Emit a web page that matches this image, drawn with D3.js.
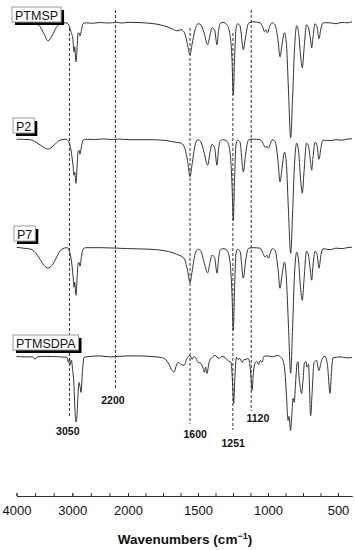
<!DOCTYPE html>
<html>
<head>
<meta charset="utf-8">
<script src="https://cdn.jsdelivr.net/npm/d3@7"></script>
<style>
  html, body { margin: 0; padding: 0; background: #fff; }
  svg { display: block; font-family: "Liberation Sans", Arial, sans-serif; }
</style>
</head>
<body>
<svg id="chart" width="355" height="550"></svg>
<script>
// ---------------- DATA ----------------
const seriesNames = ["PTMSP", "P2", "P7", "PTMSDPA"];
const seriesOffsets = [283, 186, 96, 5];   // vertical stacking offsets (%T units)

// [wavenumber (cm-1), relative transmittance]
const ptmsp = [[4000,98],[3668,97.2],[3578,94.7],[3507,88.8],[3435,83],[3363,87.2],[3291,93.8],[3220,97.2],[3112,98],[3076,97.2],[3022,90.5],[2987,83.8],[2969,73.8],[2956,78],[2933,65.5],[2915,75.5],[2897,88.8],[2879,89.7],[2861,87.2],[2834,92.2],[2807,97.2],[2753,98],[2650,97.6],[2500,98.2],[2350,97.8],[2200,98.3],[2100,97.8],[2000,98.4],[1843,97.6],[1771,96.3],[1721,94.7],[1686,93],[1650,91.3],[1621,92.2],[1600,90.5],[1579,82.2],[1557,71.3],[1543,79.7],[1521,92.2],[1500,97.2],[1479,96.3],[1457,89.7],[1431,79.7],[1414,88],[1400,93.8],[1382,92.2],[1364,79.7],[1354,90.5],[1343,97.2],[1321,98.4],[1293,96.3],[1271,88],[1257,67.2],[1248,38],[1239,67.2],[1229,92.2],[1218,97.2],[1200,95.5],[1176,75.5],[1161,85.5],[1146,95.5],[1136,98],[1107,98.8],[1057,98],[1036,93.8],[1025,90.5],[1014,92.2],[1004,89.7],[986,95.5],[971,98],[950,96.3],[929,83.8],[914,69.7],[900,79.7],[882,89.7],[868,79.7],[854,42.2],[838,2.2],[825,33.8],[811,75.5],[795,95.5],[782,90.5],[768,71.3],[755,60.5],[743,75.5],[725,96.3],[711,93.8],[696,83.8],[688,77.2],[679,85.5],[664,97.2],[650,94.7],[636,84.7],[621,93.8],[607,98],[557,98],[514,97.2],[471,98.4],[436,98],[400,98.8]];

const p2 = [[4000,98],[3760,97.6],[3650,95.5],[3543,92.2],[3435,89.7],[3327,93],[3220,97.2],[3112,98],[3076,96.8],[3022,88.8],[2987,76.3],[2969,68],[2956,70.5],[2933,61.3],[2915,73.8],[2897,87.2],[2879,88.8],[2861,85.5],[2834,92.2],[2807,97.2],[2753,98],[2600,97.7],[2450,98.2],[2300,97.8],[2150,98.1],[2000,97.6],[1843,97.6],[1736,97],[1664,95.5],[1621,94.7],[1600,92.2],[1575,80.5],[1557,66.8],[1543,76.5],[1521,93],[1500,97.6],[1479,95.5],[1457,87.2],[1431,76.3],[1414,87.2],[1400,93.8],[1382,91.3],[1364,76.3],[1354,88.8],[1343,96.3],[1321,97.6],[1293,96.3],[1271,87.2],[1257,59.7],[1248,30.5],[1239,63.8],[1229,93],[1218,97.2],[1200,95.5],[1176,70.8],[1161,84.7],[1146,95.5],[1136,97.6],[1107,98],[1057,97.6],[1036,94.7],[1021,91.3],[1007,92],[997,90.5],[982,94.7],[968,97.6],[950,96.3],[929,80.5],[914,62.4],[900,73.8],[882,87.2],[868,76.3],[854,38.8],[838,3],[825,34.7],[811,76.3],[795,94.7],[782,88.8],[768,65.5],[755,53],[743,70.5],[725,94.7],[711,92.2],[696,78.8],[688,72.2],[679,82.2],[664,95.5],[650,93],[636,81.3],[621,91.3],[607,97.2],[557,96.8],[514,97.6],[471,97.2],[436,98],[400,98.4]];

const p7 = [[4000,98],[3880,97.2],[3740,96.3],[3668,93.8],[3578,88],[3507,83],[3435,80.5],[3363,83],[3291,88.8],[3220,94.7],[3148,97.2],[3094,97.6],[3058,95.5],[3022,88.8],[2987,74.7],[2969,64.7],[2956,68.8],[2933,58],[2915,70.5],[2897,83.8],[2879,85.5],[2861,82.2],[2834,90.5],[2807,96.3],[2753,97.6],[2500,97.6],[2000,96.8],[1843,96.3],[1736,95],[1671,93],[1636,91.3],[1600,88.8],[1575,78.8],[1557,68.3],[1543,77.2],[1521,92.2],[1500,96.3],[1479,94.7],[1457,85.5],[1431,76.6],[1414,85.5],[1400,91.3],[1382,89.7],[1364,76.3],[1354,87.2],[1343,95.5],[1321,96.8],[1293,95.5],[1271,85.5],[1257,58],[1248,28.8],[1239,62.2],[1229,92.2],[1218,96.3],[1200,94.7],[1176,72.2],[1161,85.5],[1146,95.5],[1136,97.2],[1107,97.6],[1057,97.2],[1036,93],[1021,89.7],[1007,91.3],[997,88.8],[982,93.8],[968,96.8],[950,95.5],[929,80.5],[914,63.8],[900,74.7],[882,85.5],[868,70.5],[854,33],[838,-7],[825,28.8],[811,74.7],[795,93.8],[782,87.2],[768,64.7],[755,53.8],[743,70.5],[725,94.7],[711,91.3],[696,77.2],[688,70.5],[679,82.2],[664,94.7],[650,92.2],[636,80.5],[621,92.2],[607,96.8],[557,95.9],[514,97.2],[471,96.8],[436,97.6],[400,98]];

const ptmsdpa = [[4000,98],[3850,97.6],[3704,97.6],[3668,95.5],[3632,97.6],[3480,98],[3220,97.6],[3094,97.2],[3067,93],[3049,96.3],[3031,91.3],[3013,94.7],[2996,88],[2969,73.8],[2951,53],[2933,43.3],[2915,48.8],[2897,65.5],[2879,76.3],[2861,73],[2843,68],[2816,86.3],[2789,97.2],[2681,98],[2502,98.4],[2323,97.6],[2000,98.4],[1914,98.4],[1843,98],[1771,97.2],[1736,95.9],[1707,91.3],[1686,86.3],[1671,84.9],[1657,89.7],[1643,93],[1621,91.3],[1600,90.5],[1579,96.3],[1557,98.8],[1543,95.5],[1529,98],[1514,96.3],[1500,93],[1479,92.2],[1464,88],[1454,84.7],[1446,89],[1436,83.8],[1421,93],[1400,97.2],[1379,98.8],[1350,96.3],[1329,98],[1300,96.3],[1279,93.8],[1264,93],[1254,78],[1245,58.8],[1236,82.2],[1225,97.2],[1214,95.5],[1200,96.3],[1186,93],[1171,95.5],[1157,95.5],[1143,96.3],[1132,93],[1121,79.7],[1114,69.7],[1104,84.7],[1093,92.2],[1079,93.8],[1068,91.3],[1054,94.7],[1043,93],[1029,98],[1000,98.4],[971,97.6],[929,98.8],[907,97.2],[893,94.7],[879,84.7],[868,65.5],[857,44.7],[850,48],[839,36.3],[830,48.8],[821,63],[812,59.7],[804,73.8],[791,93],[785,93.5],[779,82.2],[768,71.3],[760,67.2],[750,78],[739,93],[729,93.8],[721,89],[711,91.3],[695,48.8],[686,65.5],[671,93],[654,94.7],[636,86.3],[621,93],[607,97.2],[593,98],[575,90.5],[557,67.2],[546,86.3],[536,96.8],[486,97.6],[436,96.8],[400,97.2]];

const seriesData = [ptmsp, p2, p7, ptmsdpa];

// reference (dashed) lines
const markerLabels = ["3050", "2200", "1600", "1251", "1120"];
const markerPos    = [3050, 2225, 1557, 1251, 1120];   // where the line is drawn
const markerTop    = [376.7, 391.7, 376.7, 372.5, 391.7];
const markerBottom = [51.7, 75, 46.7, 41.7, 57.5];
const markerText   = [37.5, 63.3, 35, 27.75, 48];
const markerTextX  = [3080, 2270, 1520, 1249, 1072];

// axis ticks
const majorTicks = [4000, 3000, 2000, 1500, 1000, 500];
const minorTicks = [4000, 3666.7, 3333.3, 3000, 2666.7, 2333.3, 2000,
  1875, 1750, 1625, 1500, 1375, 1250, 1125, 1000, 875, 750, 625, 500];

// ---------------- LAYOUT ----------------
const svg = d3.select("#chart");
const font = "'Liberation Sans', Arial, sans-serif";
const x = d3.scaleLinear().domain([4000, 2000, 400]).range([16.5, 128, 352]);
const y = d3.scaleLinear().domain([0, 400]).range([480, 0]);
const axisY = 496;

// dashed marker lines
const mk = svg.append("g");
markerPos.forEach((w, i) => {
  mk.append("line")
    .attr("x1", x(w)).attr("x2", x(w))
    .attr("y1", y(markerTop[i])).attr("y2", y(markerBottom[i]))
    .attr("stroke", "#333").attr("stroke-width", 1)
    .attr("stroke-dasharray", "3,2");
  mk.append("text")
    .attr("x", x(markerTextX[i])).attr("y", y(markerText[i]))
    .attr("text-anchor", "middle")
    .attr("font-size", "10.5px").attr("font-weight", "bold")
    .attr("fill", "#111")
    .text(markerLabels[i]);
});

// spectra
const line = d3.line()
  .x(d => x(d[0]))
  .y(d => y(d[1]))
  .curve(d3.curveMonotoneX);

seriesData.forEach((s, i) => {
  svg.append("path")
    .datum(s.map(d => [d[0], d[1] + seriesOffsets[i]]))
    .attr("d", line)
    .attr("fill", "none")
    .attr("stroke", "#333")
    .attr("stroke-width", 1);
});

// series labels with shadowed boxes
const labelBoxes = [[12, 7], [13, 118], [14, 226], [13, 335]];
seriesNames.forEach((name, i) => {
  const g = svg.append("g").attr("transform", `translate(${labelBoxes[i][0]},${labelBoxes[i][1]})`);
  const shadow = g.append("rect").attr("fill", "#000");
  const box = g.append("rect").attr("fill", "#fff").attr("stroke", "#999").attr("stroke-width", 1);
  const t = g.append("text")
    .attr("font-size", "12.5px").attr("fill", "#111")
    .attr("x", 3).attr("y", 12.5)
    .text(name);
  const w = t.node().getComputedTextLength() + 6;
  const h = 15;
  box.attr("x", 0).attr("y", 0).attr("width", w).attr("height", h);
  shadow.attr("x", 3).attr("y", 3).attr("width", w).attr("height", h);
});

// x axis
const axisMinor = d3.axisBottom(x).tickValues(minorTicks).tickFormat("")
  .tickSizeInner(-3).tickSizeOuter(0);
const axisMajor = d3.axisBottom(x).tickValues(majorTicks).tickFormat(d3.format("d"))
  .tickSizeInner(-3).tickSizeOuter(0).tickPadding(10);

const gm = svg.append("g").attr("transform", `translate(0,${axisY})`).call(axisMinor);
const ga = svg.append("g").attr("transform", `translate(0,${axisY})`).call(axisMajor);
[gm, ga].forEach(g => {
  g.select(".domain").attr("stroke", "#333");
  g.selectAll(".tick line").attr("stroke", "#333");
});
ga.selectAll(".tick text").attr("font-family", font).attr("font-size", "13px").attr("fill", "#111");

// axis title
const title = svg.append("text")
  .attr("x", 185).attr("y", 544)
  .attr("text-anchor", "middle")
  .attr("font-size", "13.5px").attr("font-weight", "bold").attr("fill", "#111");
title.append("tspan").text("Wavenumbers (cm");
title.append("tspan").attr("dy", -5).attr("font-size", "9px").text("\u22121");
title.append("tspan").attr("dy", 5).text(")");
</script>
</body>
</html>
